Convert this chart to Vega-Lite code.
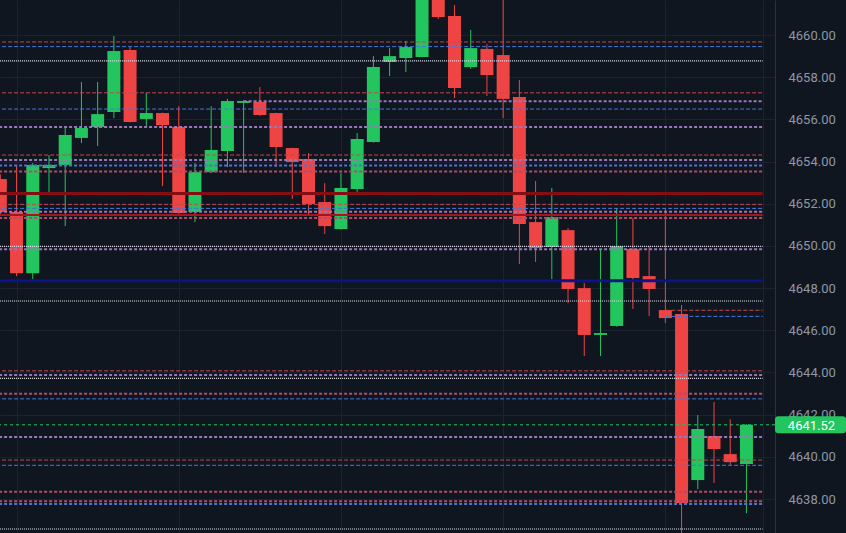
{
  "$schema": "https://vega.github.io/schema/vega-lite/v6.json",
  "width": 775,
  "height": 533,
  "autosize": {"type": "none"},
  "padding": {"left": 0, "top": 0, "right": 71, "bottom": 0},
  "background": "#10161f",
  "config": {
    "font": "Roboto",
    "view": {"stroke": null},
    "axisY": {"ticks": false, "labelPadding": 13, "labelFontSize": 13, "labelColor": "#8e97a6", "labelFont": "Roboto",
              "labelFlush": false, "labelOverlap": false, "grid": true, "gridColor": "#1b2230", "gridWidth": 1,
              "domain": true, "domainColor": "#2a303c", "domainWidth": 1},
    "axisX": {"labels": false, "ticks": false, "domain": false, "grid": true, "gridColor": "#1b2230", "gridWidth": 1}
  },
  "datasets": {
    "candles": [
      {"k":1,"o":4653.17,"h":4653.40,"l":4651.50,"c":4651.61},
      {"k":2,"o":4651.61,"h":4653.84,"l":4648.57,"c":4648.71},
      {"k":3,"o":4648.71,"h":4653.93,"l":4648.43,"c":4653.84},
      {"k":4,"o":4653.69,"h":4654.31,"l":4652.56,"c":4653.84},
      {"k":5,"o":4653.84,"h":4655.59,"l":4650.94,"c":4655.26},
      {"k":6,"o":4655.12,"h":4657.77,"l":4654.88,"c":4655.59},
      {"k":7,"o":4655.64,"h":4657.77,"l":4654.74,"c":4656.25},
      {"k":8,"o":4656.35,"h":4659.95,"l":4656.06,"c":4659.24},
      {"k":9,"o":4659.29,"h":4659.43,"l":4655.85,"c":4655.87},
      {"k":10,"o":4656.02,"h":4657.25,"l":4655.69,"c":4656.30},
      {"k":11,"o":4656.30,"h":4656.32,"l":4652.84,"c":4655.73},
      {"k":12,"o":4655.64,"h":4656.63,"l":4651.52,"c":4651.56},
      {"k":13,"o":4651.61,"h":4653.93,"l":4651.13,"c":4653.50},
      {"k":14,"o":4653.50,"h":4656.63,"l":4653.45,"c":4654.55},
      {"k":15,"o":4654.50,"h":4656.97,"l":4653.74,"c":4656.87},
      {"k":16,"o":4656.78,"h":4656.90,"l":4653.46,"c":4656.87},
      {"k":17,"o":4656.82,"h":4657.53,"l":4656.16,"c":4656.21},
      {"k":18,"o":4656.30,"h":4656.32,"l":4653.74,"c":4654.69},
      {"k":19,"o":4654.64,"h":4654.66,"l":4652.22,"c":4653.98},
      {"k":20,"o":4654.12,"h":4654.40,"l":4651.42,"c":4651.99},
      {"k":21,"o":4652.08,"h":4652.98,"l":4650.56,"c":4650.94},
      {"k":22,"o":4650.80,"h":4653.46,"l":4650.78,"c":4652.75},
      {"k":23,"o":4652.70,"h":4655.35,"l":4652.56,"c":4655.07},
      {"k":24,"o":4654.93,"h":4659.00,"l":4654.90,"c":4658.48},
      {"k":25,"o":4658.72,"h":4659.38,"l":4658.06,"c":4659.00},
      {"k":26,"o":4658.91,"h":4659.72,"l":4658.25,"c":4659.43},
      {"k":27,"o":4658.96,"h":4662.60,"l":4658.94,"c":4662.20},
      {"k":28,"o":4662.50,"h":4662.80,"l":4660.76,"c":4660.85},
      {"k":29,"o":4660.90,"h":4661.42,"l":4657.01,"c":4657.49},
      {"k":30,"o":4658.48,"h":4660.24,"l":4658.39,"c":4659.38},
      {"k":31,"o":4659.34,"h":4659.57,"l":4657.11,"c":4658.10},
      {"k":32,"o":4659.05,"h":4662.00,"l":4656.06,"c":4656.97},
      {"k":33,"o":4657.06,"h":4657.87,"l":4649.14,"c":4651.04},
      {"k":34,"o":4651.13,"h":4653.08,"l":4649.24,"c":4649.90},
      {"k":35,"o":4649.95,"h":4652.75,"l":4648.43,"c":4651.37},
      {"k":36,"o":4650.75,"h":4650.85,"l":4647.29,"c":4647.96},
      {"k":37,"o":4648.00,"h":4648.24,"l":4644.78,"c":4645.78},
      {"k":38,"o":4645.78,"h":4649.81,"l":4644.78,"c":4645.87},
      {"k":39,"o":4646.20,"h":4651.80,"l":4646.17,"c":4649.99},
      {"k":40,"o":4649.85,"h":4651.32,"l":4647.01,"c":4648.48},
      {"k":41,"o":4648.57,"h":4649.99,"l":4646.68,"c":4647.96},
      {"k":42,"o":4646.96,"h":4651.75,"l":4646.34,"c":4646.58},
      {"k":43,"o":4646.77,"h":4647.20,"l":4636.20,"c":4637.81},
      {"k":44,"o":4638.90,"h":4641.98,"l":4638.47,"c":4641.32},
      {"k":45,"o":4640.99,"h":4642.60,"l":4638.76,"c":4640.37},
      {"k":46,"o":4640.13,"h":4641.79,"l":4639.61,"c":4639.75},
      {"k":47,"o":4639.66,"h":4641.55,"l":4637.33,"c":4641.52}
    ],
    "levels": [
      {"p":4659.67,"t":"r","s":0,"e":48},
      {"p":4659.45,"t":"b","s":0,"e":48},
      {"p":4658.77,"t":"w","s":0,"e":48},
      {"p":4657.26,"t":"r","s":0,"e":48},
      {"p":4656.86,"t":"p","s":16,"e":48},
      {"p":4656.49,"t":"b","s":0,"e":48},
      {"p":4655.64,"t":"p","s":0,"e":48},
      {"p":4654.31,"t":"r","s":0,"e":48},
      {"p":4654.07,"t":"p","s":0,"e":48},
      {"p":4653.81,"t":"bt","s":0,"e":48},
      {"p":4653.53,"t":"rt","s":0,"e":48},
      {"p":4652.49,"t":"R","s":0,"e":48},
      {"p":4651.97,"t":"r","s":0,"e":48},
      {"p":4651.78,"t":"b","s":0,"e":48},
      {"p":4651.62,"t":"p","s":0,"e":48},
      {"p":4651.47,"t":"S","s":0,"e":48},
      {"p":4651.32,"t":"rt","s":0,"e":48},
      {"p":4649.98,"t":"w","s":0,"e":48},
      {"p":4649.84,"t":"p","s":0,"e":48},
      {"p":4648.35,"t":"N","s":0,"e":48},
      {"p":4647.39,"t":"w","s":0,"e":48},
      {"p":4646.95,"t":"r","s":42,"e":48},
      {"p":4646.66,"t":"b","s":42,"e":48},
      {"p":4644.08,"t":"r","s":0,"e":48},
      {"p":4643.88,"t":"p","s":0,"e":48},
      {"p":4643.72,"t":"w","s":0,"e":48},
      {"p":4642.99,"t":"rt","s":0,"e":48},
      {"p":4642.75,"t":"b","s":0,"e":48},
      {"p":4640.94,"t":"p","s":0,"e":48},
      {"p":4639.85,"t":"r","s":0,"e":48},
      {"p":4639.60,"t":"b","s":0,"e":48},
      {"p":4638.35,"t":"rt","s":0,"e":48},
      {"p":4637.90,"t":"rt","s":0,"e":48},
      {"p":4637.76,"t":"bt","s":0,"e":48},
      {"p":4636.58,"t":"w","s":0,"e":48}
    ],
    "last": [{"p":4641.52}]
  },
  "layer": [
    {
      "data": {"name": "candles"},
      "mark": {"type": "rule", "strokeWidth": 1, "clip": true},
      "encoding": {
        "x": {"field": "k", "type": "quantitative", "title": null,
              "scale": {"domain": [0.98, 48.76], "nice": false, "zero": false, "padding": 0},
              "axis": {"title": null, "values": [2, 12, 22, 32, 42, 48]}},
        "y": {"field": "l", "type": "quantitative", "title": null,
              "scale": {"domain": [4636.39, 4661.66], "nice": false, "zero": false, "padding": 0},
              "axis": {"orient": "right", "title": null, "format": ".2f",
                       "values": [4638, 4640, 4642, 4644, 4646, 4648, 4650, 4652, 4654, 4656, 4658, 4660]}},
        "y2": {"field": "h"},
        "color": {"condition": {"test": "datum.c >= datum.o", "value": "#22c55e"}, "value": "#ef4444"}
      }
    },
    {
      "data": {"name": "candles"},
      "mark": {"type": "bar", "size": 13, "clip": true},
      "encoding": {
        "x": {"field": "k", "type": "quantitative", "title": null},
        "y": {"field": "o", "type": "quantitative", "title": null},
        "y2": {"field": "c"},
        "color": {"condition": {"test": "datum.c >= datum.o", "value": "#22c55e"}, "value": "#ef4444"}
      }
    },
    {
      "data": {"name": "levels"},
      "transform": [{"filter": "datum.t == 'r'"}],
      "mark": {"type": "rule", "color": "#c8464f", "strokeWidth": 1, "strokeDash": [4, 2]},
      "encoding": {"x": {"field": "s", "type": "quantitative", "title": null}, "x2": {"field": "e"}, "y": {"field": "p", "type": "quantitative", "title": null}}
    },
    {
      "data": {"name": "levels"},
      "transform": [{"filter": "datum.t == 'b'"}],
      "mark": {"type": "rule", "color": "#4479dc", "strokeWidth": 1, "strokeDash": [4, 2]},
      "encoding": {"x": {"field": "s", "type": "quantitative", "title": null}, "x2": {"field": "e"}, "y": {"field": "p", "type": "quantitative", "title": null}}
    },
    {
      "data": {"name": "levels"},
      "transform": [{"filter": "datum.t == 'w'"}],
      "mark": {"type": "rule", "color": "#e2e2ea", "strokeWidth": 1.2, "strokeDash": [1, 1]},
      "encoding": {"x": {"field": "s", "type": "quantitative", "title": null}, "x2": {"field": "e"}, "y": {"field": "p", "type": "quantitative", "title": null}}
    },
    {
      "data": {"name": "levels"},
      "transform": [{"filter": "datum.t == 'p'"}],
      "mark": {"type": "rule", "color": "#9a78b8", "strokeWidth": 2, "strokeDash": [3, 2]},
      "encoding": {"x": {"field": "s", "type": "quantitative", "title": null}, "x2": {"field": "e"}, "y": {"field": "p", "type": "quantitative", "title": null}}
    },
    {
      "data": {"name": "levels"},
      "transform": [{"filter": "datum.t == 'bt'"}],
      "mark": {"type": "rule", "color": "#5272cc", "strokeWidth": 2, "strokeDash": [3, 2]},
      "encoding": {"x": {"field": "s", "type": "quantitative", "title": null}, "x2": {"field": "e"}, "y": {"field": "p", "type": "quantitative", "title": null}}
    },
    {
      "data": {"name": "levels"},
      "transform": [{"filter": "datum.t == 'rt'"}],
      "mark": {"type": "rule", "color": "#b04c68", "strokeWidth": 2, "strokeDash": [3, 2]},
      "encoding": {"x": {"field": "s", "type": "quantitative", "title": null}, "x2": {"field": "e"}, "y": {"field": "p", "type": "quantitative", "title": null}}
    },
    {
      "data": {"name": "levels"},
      "transform": [{"filter": "datum.t == 'R'"}],
      "mark": {"type": "rule", "color": "#840e14", "strokeWidth": 3},
      "encoding": {"x": {"field": "s", "type": "quantitative", "title": null}, "x2": {"field": "e"}, "y": {"field": "p", "type": "quantitative", "title": null}}
    },
    {
      "data": {"name": "levels"},
      "transform": [{"filter": "datum.t == 'S'"}],
      "mark": {"type": "rule", "color": "#a3161e", "strokeWidth": 2},
      "encoding": {"x": {"field": "s", "type": "quantitative", "title": null}, "x2": {"field": "e"}, "y": {"field": "p", "type": "quantitative", "title": null}}
    },
    {
      "data": {"name": "levels"},
      "transform": [{"filter": "datum.t == 'N'"}],
      "mark": {"type": "rule", "color": "#0a1488", "strokeWidth": 3},
      "encoding": {"x": {"field": "s", "type": "quantitative", "title": null}, "x2": {"field": "e"}, "y": {"field": "p", "type": "quantitative", "title": null}}
    },
    {
      "data": {"name": "last"},
      "mark": {"type": "rule", "color": "#22c55e", "strokeWidth": 1, "strokeDash": [3, 3]},
      "encoding": {"y": {"field": "p", "type": "quantitative", "title": null}}
    },
    {
      "data": {"name": "last"},
      "mark": {"type": "bar", "color": "#22c55e", "size": 17, "cornerRadiusEnd": 3, "clip": false, "orient": "horizontal"},
      "encoding": {
        "x": {"datum": 48.76, "type": "quantitative", "title": null},
        "x2": {"datum": 53.14},
        "y": {"field": "p", "type": "quantitative", "title": null}
      }
    },
    {
      "data": {"name": "last"},
      "mark": {"type": "text", "color": "#ffffff", "fontSize": 13, "font": "Roboto", "align": "center", "baseline": "middle", "clip": false, "dy": 1},
      "encoding": {
        "x": {"datum": 51.01, "type": "quantitative", "title": null},
        "y": {"field": "p", "type": "quantitative", "title": null},
        "text": {"field": "p", "type": "quantitative", "format": ".2f"}
      }
    }
  ]
}
